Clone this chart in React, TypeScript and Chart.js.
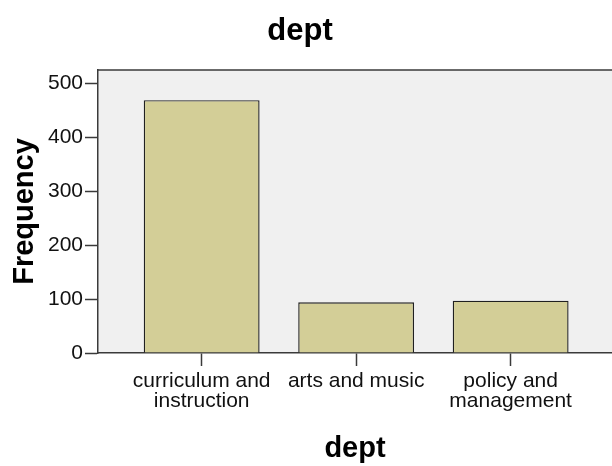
import React, { useEffect, useRef } from 'react';
import { Chart, registerables } from 'chart.js';

Chart.register(...registerables);

const chartTitle = 'dept';
const xAxisTitle = 'dept';
const yAxisTitle = 'Frequency';
const categories: (string | string[])[] = [
  ['curriculum and', 'instruction'],
  'arts and music',
  ['policy and', 'management'],
];
const frequencies = [469, 94, 97];
const yTicks = [0, 100, 200, 300, 400, 500];
const yMax = 525;
const xMin = -0.671;
const xMax = 2.656;

const FONT = '"Liberation Sans", Arial, Helvetica, sans-serif';
const AXIS_COLOR = '#3a3a3a';

const plotFrame = {
  id: 'plotFrame',
  beforeDraw(chart: any) {
    const { ctx, chartArea } = chart;
    if (!chartArea) return;
    ctx.save();
    ctx.fillStyle = '#F0F0F0';
    ctx.fillRect(chartArea.left, chartArea.top, chartArea.right - chartArea.left, chartArea.bottom - chartArea.top);
    ctx.restore();
  },
  afterDraw(chart: any) {
    const { ctx, chartArea } = chart;
    if (!chartArea) return;
    ctx.save();
    ctx.strokeStyle = AXIS_COLOR;
    ctx.lineWidth = 1.5;
    ctx.beginPath();
    ctx.moveTo(chartArea.left, chartArea.top);
    ctx.lineTo(chartArea.right, chartArea.top);
    ctx.stroke();
    ctx.restore();
  },
};

export default function App() {
  const canvasRef = useRef<HTMLCanvasElement | null>(null);

  useEffect(() => {
    const canvas = canvasRef.current;
    if (!canvas) return;
    const chart = new Chart(canvas, {
      type: 'bar',
      data: {
        datasets: [
          {
            label: yAxisTitle,
            data: frequencies.map((v, i) => ({ x: i, y: v })),
            backgroundColor: '#D3CE97',
            borderColor: '#202020',
            borderWidth: 1.4,
            barPercentage: 0.75,
            categoryPercentage: 1,
          },
        ],
      },
      options: {
        responsive: false,
        animation: false,
        layout: { padding: { left: -12, right: 0, top: 0, bottom: 0 } },
        plugins: {
          legend: { display: false },
          tooltip: { enabled: false },
          title: {
            display: true,
            text: chartTitle,
            color: '#000',
            font: { family: FONT, size: 31, weight: 'bold', lineHeight: 1.2 },
            padding: { top: 13, bottom: 19.8 },
          },
        },
        scales: {
          x: {
            type: 'linear',
            offset: false,
            min: xMin,
            max: xMax,
            afterBuildTicks: (scale: any) => {
              scale.ticks = categories.map((_, i) => ({ value: i }));
            },
            afterFit: (scale: any) => {
              scale.height = 113;
            },
            grid: {
              offset: false,
              drawOnChartArea: false,
              drawTicks: true,
              tickLength: 13,
              tickColor: AXIS_COLOR,
              tickWidth: 1.5,
            },
            border: { display: true, color: AXIS_COLOR, width: 1.5 },
            ticks: {
              autoSkip: false,
              maxRotation: 0,
              minRotation: 0,
              padding: 5,
              color: '#111',
              font: { family: FONT, size: 21, lineHeight: 0.95 },
              callback: (value: any) => categories[Math.round(Number(value))] as any,
            },
            title: {
              display: true,
              text: xAxisTitle,
              color: '#000',
              font: { family: FONT, size: 29, weight: 'bold', lineHeight: 1.2 },
              padding: { top: 0, bottom: 0 },
            },
          },
          y: {
            type: 'linear',
            min: 0,
            max: yMax,
            afterBuildTicks: (scale: any) => {
              scale.ticks = yTicks.map((v) => ({ value: v }));
            },
            afterFit: (scale: any) => {
              scale.width = 110;
            },
            grid: {
              drawOnChartArea: false,
              drawTicks: true,
              tickLength: 13,
              tickColor: AXIS_COLOR,
              tickWidth: 1.5,
            },
            border: { display: true, color: AXIS_COLOR, width: 1.5 },
            ticks: {
              padding: 2,
              color: '#111',
              font: { family: FONT, size: 21 },
            },
            title: {
              display: true,
              text: yAxisTitle,
              color: '#000',
              font: { family: FONT, size: 29, weight: 'bold', lineHeight: 1.2 },
              padding: { top: 20, bottom: 0 },
            },
          },
        },
      },
      plugins: [plotFrame],
    } as any);
    return () => {
      chart.destroy();
    };
  }, []);

  return (
    <div style={{ position: 'fixed', left: 0, top: 0, width: 612, height: 466, background: '#fff', overflow: 'hidden' }}>
      <canvas ref={canvasRef} width={612} height={466} style={{ display: 'block' }} />
    </div>
  );
}
